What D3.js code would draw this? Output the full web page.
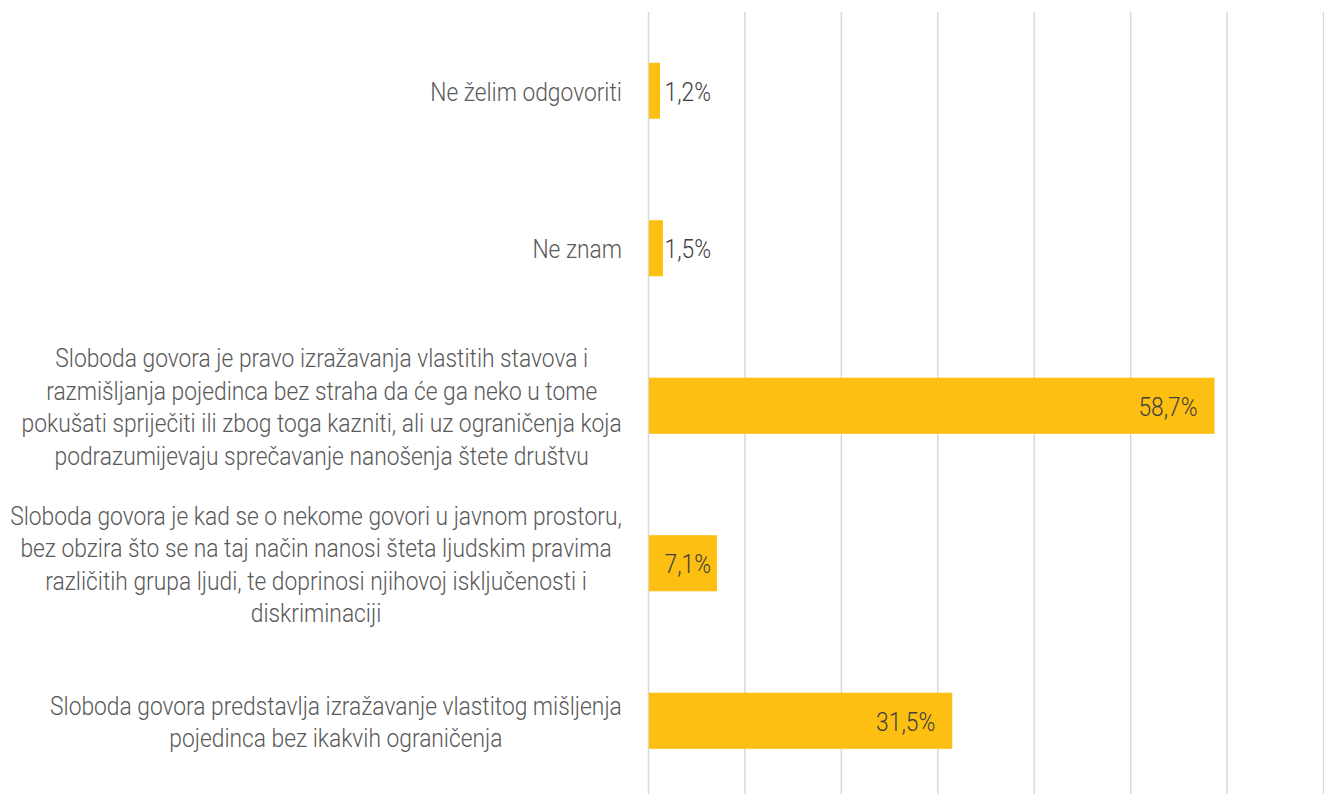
<!DOCTYPE html>
<html><head><meta charset="utf-8">
<script src="https://cdn.jsdelivr.net/npm/d3@7"></script>
<style>
html,body{margin:0;padding:0;background:#fff;}
svg text{font-family:Roboto,"Open Sans",sans-serif;font-weight:300;}
</style></head>
<body>
<svg id="chart" width="1324" height="794"></svg>
<script>
// Data
const categories = [
  "Ne želim odgovoriti",
  "Ne znam",
  "Sloboda govora je pravo izražavanja vlastitih stavova i\nrazmišljanja pojedinca bez straha da će ga neko u tome\npokušati spriječiti ili zbog toga kazniti, ali uz ograničenja koja\npodrazumijevaju sprečavanje nanošenja štete društvu",
  "Sloboda govora je kad se o nekome govori u javnom prostoru,\nbez obzira što se na taj način nanosi šteta ljudskim pravima\nrazličitih grupa ljudi, te doprinosi njihovoj isključenosti i\ndiskriminaciji",
  "Sloboda govora predstavlja izražavanje vlastitog mišljenja\npojedinca bez ikakvih ograničenja"
];
const values = [1.2, 1.5, 58.7, 7.1, 31.5];
const gridTicks = [0, 10, 20, 30, 40, 50, 60, 70];

const svg = d3.select("#chart");
const x = d3.scaleLinear().domain([0, 70]).range([648.5, 1323.5]);
const y = d3.scaleBand().domain(categories).range([12, 799.5]).paddingInner(0.644).paddingOuter(0.322);

const fs = 26;
// horizontal compression to match the condensed face of the reference
const probe = svg.append("text").attr("font-size", fs);
let maxLine = 0;
categories.forEach(c => c.split("\n").forEach(l => {
  probe.text(l);
  maxLine = Math.max(maxLine, probe.node().getComputedTextLength());
}));
probe.remove();
const sx = 612 / maxLine;

// gridlines
svg.append("g").selectAll("line").data(gridTicks).join("line")
  .attr("x1", d => x(d)).attr("x2", d => x(d))
  .attr("y1", 12).attr("y2", 794)
  .attr("stroke", "#d9d9d9").attr("stroke-width", 1.5);

// bars
svg.append("g").selectAll("rect").data(values).join("rect")
  .attr("x", x(0) + 0.5)
  .attr("y", (d, i) => y(categories[i]))
  .attr("width", d => x(d) - x(0) - 0.5)
  .attr("height", y.bandwidth())
  .attr("fill", "#fdbf11");

// value labels
svg.append("g").selectAll("text").data(values).join("text")
  .attr("font-size", fs)
  .attr("fill", "#404040")
  .attr("dominant-baseline", "central")
  .attr("text-anchor", d => (x(d) - x(0) > 100) ? "end" : "start")
  .attr("transform", (d, i) => {
    const px = (x(d) - x(0) > 100) ? x(d) - 17 : x(0) + 16;
    const py = y(categories[i]) + y.bandwidth() / 2 + 1;
    return `translate(${px},${py}) scale(${sx},1)`;
  })
  .text(d => d.toFixed(1).replace(".", ",") + "%");

// category labels
const lineH = 32.5;
const right = 622;
categories.forEach((c, i) => {
  const lines = c.split("\n");
  const cy = y(c) + y.bandwidth() / 2 + 1;
  const t = svg.append("text").attr("font-size", fs).attr("fill", "#595959").attr("text-anchor", "middle");
  const widths = lines.map(l => { t.text(l); return t.node().getComputedTextLength() * sx; });
  t.text(null);
  const maxW = d3.max(widths);
  const cx = right - maxW / 2;
  t.attr("transform", `translate(${cx},${cy}) scale(${sx},1)`);
  lines.forEach((l, j) => {
    t.append("tspan").attr("x", 0)
      .attr("y", (j - (lines.length - 1) / 2) * lineH)
      .attr("dominant-baseline", "central")
      .text(l);
  });
});
</script>
</body></html>
